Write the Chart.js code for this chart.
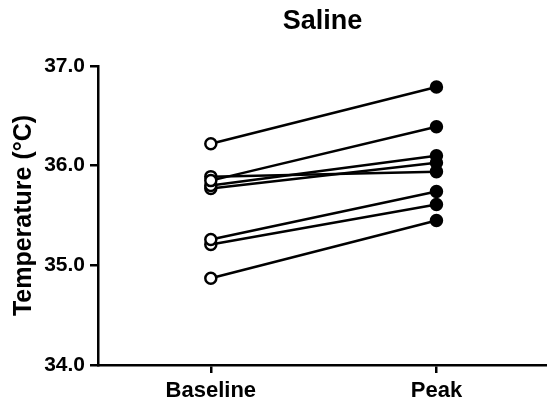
<!DOCTYPE html>
<html>
<head>
<meta charset="utf-8">
<script src="https://cdn.jsdelivr.net/npm/chart.js@4"></script>
<style>
  html, body { margin: 0; padding: 0; background: #fff; }
  #wrap { width: 547px; height: 407px; }
</style>
</head>
<body>
<div id="wrap"><canvas id="myChart"></canvas></div>
<script>
// categories and values
const categories = ["Baseline", "Peak"];
const baseline = [36.22, 35.85, 35.80, 35.77, 35.89, 35.26, 35.21, 34.87];
const peak = [36.79, 36.39, 36.10, 36.03, 35.94, 35.74, 35.61, 35.45];
const yTicks = [34.0, 35.0, 36.0, 37.0];

const ctx = document.getElementById("myChart").getContext("2d");
Chart.defaults.font.family = "'Liberation Sans', Arial, sans-serif";
Chart.defaults.color = "#000";

const datasets = [];
for (let i = 0; i < baseline.length; i++) {
  datasets.push({
    xAxisID: "x",
    yAxisID: "y",
    data: [
      { x: 0, y: baseline[i] },
      { x: 1, y: peak[i] },
    ],
    borderColor: "#000",
    borderWidth: 2.5,
    pointRadius: 5.5,
    pointBorderWidth: 2.5,
    pointBorderColor: "#000",
    pointBackgroundColor: ["#fff", "#000"],
    showLine: true,
    fill: false,
  });
}

const axisStyle = {
  grid: { drawOnChartArea: false, drawTicks: true, tickLength: 8, color: "#000", lineWidth: 2.5 },
  border: { color: "#000", width: 2.5 },
};

const config = {
  type: "scatter",
  data: { datasets: datasets },
  options: {
    responsive: true,
    maintainAspectRatio: false,
    animation: false,
    layout: { autoPadding: false, padding: 0 },
    plugins: {
      legend: { display: false },
      tooltip: { enabled: false },
    },
    scales: {
      x: {
        type: "linear",
        position: "bottom",
        min: -0.5,
        max: 1.49,
        afterBuildTicks: (axis) => {
          axis.ticks = categories.map((c, i) => ({ value: i }));
        },
        ticks: {
          callback: (v) => categories[v],
          font: { size: 22, weight: "bold" },
          padding: 5,
          maxRotation: 0,
        },
        afterFit: (axis) => { axis.height = 42; },
        ...axisStyle,
      },
      y: {
        min: 34,
        max: 37,
        afterBuildTicks: (axis) => {
          axis.ticks = yTicks.map((v) => ({ value: v }));
        },
        ticks: {
          callback: (v) => v.toFixed(1),
          font: { size: 21, weight: "bold" },
          padding: 5,
        },
        title: {
          display: true,
          text: "Temperature (°C)",
          font: { size: 25, weight: "bold" },
          padding: { top: 9, bottom: 0 },
        },
        afterFit: (axis) => { axis.width = 98; },
        ...axisStyle,
      },
      // top axis only carries the chart title, centred over the plot area
      top: {
        type: "linear",
        position: "top",
        min: 0,
        max: 1,
        ticks: { display: false },
        grid: { display: false, drawTicks: false },
        border: { display: false },
        title: {
          display: true,
          text: "Saline",
          font: { size: 27, weight: "bold" },
          padding: { top: 5, bottom: 0 },
        },
        afterFit: (axis) => { axis.height = 66; },
      },
    },
  },
};

new Chart(ctx, config);
</script>
</body>
</html>
